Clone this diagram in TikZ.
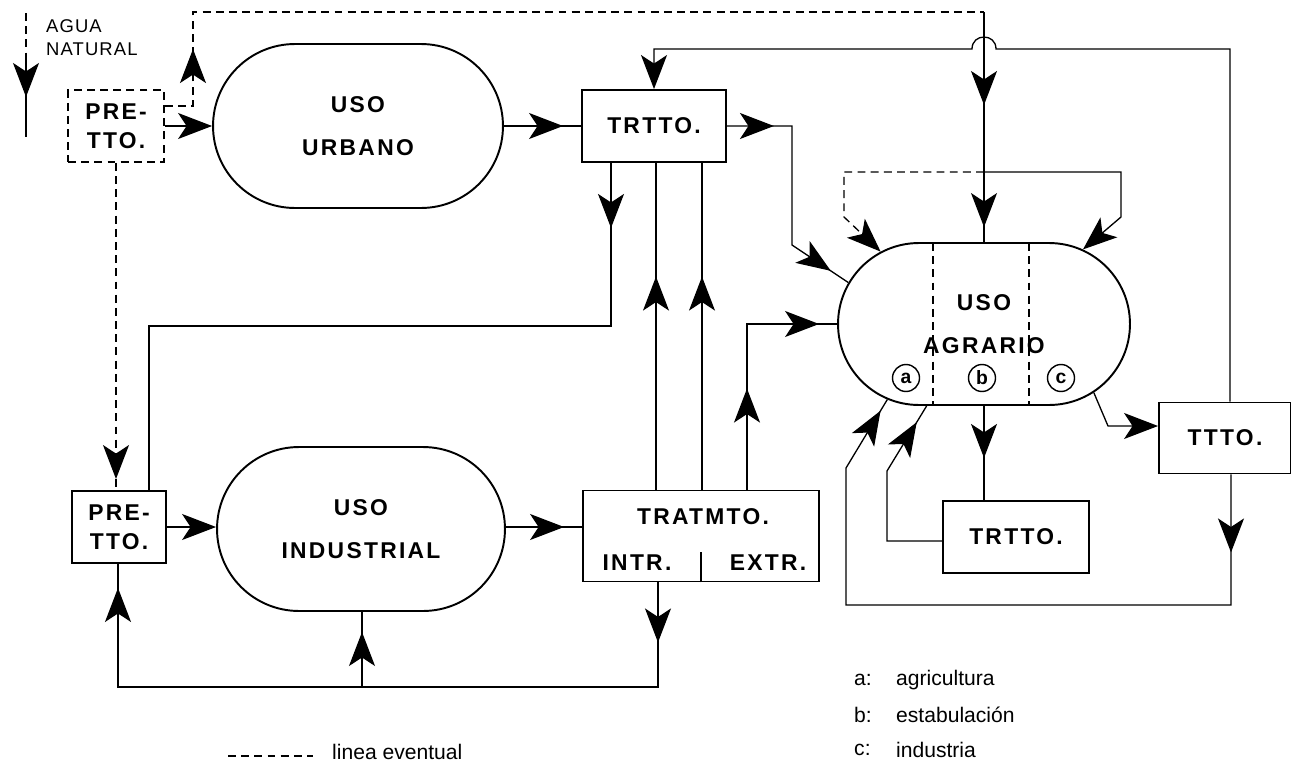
\documentclass[tikz,border=0pt]{standalone}
\usepackage{fontspec}
\setmainfont{Liberation Sans}
\newfontfamily\boxfont{Liberation Sans Bold}[LetterSpace=10]
\newfontfamily\thinfont{Liberation Sans}[LetterSpace=6]
\usepackage{tikz}
\usetikzlibrary{arrows.meta,shapes.misc,decorations.markings}

\tikzset{
	flowtip/.tip={Stealth[length=0.68cm,width=0.52cm,inset=0.17cm]},
	tipat/.style={postaction={decorate,solid,decoration={markings,mark=at position #1 with {\arrow{flowtip}}}}},
}

\begin{document}
\begin{tikzpicture}[x=0.02cm, y=-0.02cm,
		unit/.style={draw, line width=1.1pt, inner sep=0pt, align=center, font=\boxfont\fontsize{13}{15.5}\selectfont},
		usage/.style={unit, rounded rectangle},
		flow/.style={line width=0.75pt},
		maybe/.style={flow, dash pattern=on 4.5pt off 3pt},
		subuse/.style={draw, circle, line width=0.8pt, minimum size=0.54cm, inner sep=0pt, font=\bfseries\fontsize{11}{13}\selectfont},
		note/.style={anchor=west, font=\fontsize{12}{14}\selectfont}]
	\path[fill=white] (0,0) rectangle (1291,764);
	\useasboundingbox (0,0) rectangle (1291,764);
	
	% pretreatments, uses and treatments
	\node[unit, dash pattern=on 4.5pt off 3pt, minimum width=1.92cm, minimum height=1.44cm] (pretop) at (116,126) {PRE-\\[1pt]TTO.};
	\node[usage, minimum width=5.8cm, minimum height=3.28cm] (urbano) at (358,126) {USO\\[9pt]URBANO};
	\node[unit, minimum width=2.88cm, minimum height=1.44cm] (trtop) at (654,126) {TRTTO.};
	\node[usage, minimum width=5.84cm, minimum height=3.24cm] (agrario) at (984,324) {USO\\[9pt]AGRARIO};
	\node[unit, minimum width=1.88cm, minimum height=1.44cm] (prebot) at (119,527) {PRE-\\[1pt]TTO.};
	\node[usage, minimum width=5.76cm, minimum height=3.28cm] (industrial) at (361,529) {USO\\[9pt]INDUSTRIAL};
	\node[unit, minimum width=4.72cm, minimum height=1.82cm] (tratmto) at (701,536) {};
	\node[unit, draw=none] (tratitle) at (703,517) {TRATMTO.};
	\node[unit, draw=none] (intr) at (637,563) {INTR.};
	\node[unit, draw=none] (extr) at (768,563) {EXTR.};
	\draw[line width=1.1pt] (tratmto.south) -- ++(0,-30);
	\node[unit, minimum width=2.92cm, minimum height=1.44cm] (trtbot) at (1016,537) {TRTTO.};
	\node[unit, minimum width=2.64cm, minimum height=1.42cm] (ttto) at (1225,438) {TTTO.};
	
	% sectors of the farming use
	\draw[maybe] (933,243) -- (933,405);
	\draw[maybe] (1029,243) -- (1029,405);
	\node[subuse] (seca) at (906,378) {a};
	\node[subuse] (secb) at (982,378) {b};
	\node[subuse] (secc) at (1061,378) {c};
	
	% natural water
	\node[anchor=west, align=left, font=\thinfont\fontsize{10.5}{13}\selectfont] (agua) at (40,38) {AGUA\\NATURAL};
	\path[shape=coordinate]
	(26,13) coordinate(wtop)
	(26,60) coordinate(wmid)
	(26,137) coordinate(wend);
	\draw[maybe] (wtop) -- (wmid);
	\draw[flow, tipat=0.48] (wmid) -- (wend);
	
	% bends of the connectors
	\path[shape=coordinate]
	(193,106) coordinate(upa)
	(193,12) coordinate(upb)
	(984,12) coordinate(upc)
	(984,172) coordinate(split)
	(1230,49) coordinate(reta)
	(654,49) coordinate(retb)
	(792,126) coordinate(ta)
	(792,245) coordinate(tb)
	(656,0) coordinate(ua)
	(702,0) coordinate(ub)
	(747,0) coordinate(xa)
	(658,687) coordinate(ra)
	(118,687) coordinate(rb)
	(362,687) coordinate(rc)
	(611,326) coordinate(da)
	(149,326) coordinate(db)
	(844,172) coordinate(ea)
	(844,217) coordinate(eb)
	(1121,172) coordinate(fa)
	(1121,217) coordinate(fb)
	(887,541) coordinate(ga)
	(887,471) coordinate(gb)
	(1231,605) coordinate(ha)
	(846,605) coordinate(hb)
	(846,468) coordinate(hc)
	(1108,426) coordinate(ka);
	
	% upper half
	\draw[flow, -{flowtip}] (pretop.east) -- (urbano.west);
	\draw[maybe, tipat=1.7cm] (pretop.east |- upa) -- (upa) -- (upb) -- (upc);
	\draw[flow, tipat=1.86cm, tipat=-0.3cm] (upc) -- (agrario.north);
	\draw[flow, -{flowtip}] (reta |- ttto.north) -- (reta) -- (996,49) .. controls (996,33) and (972,33) .. (972,49) -- (retb) -- (trtop.north);
	\draw[flow, tipat=-0.36cm] (urbano.east) -- (trtop.west);
	\draw[flow, tipat=0.94cm, tipat=-0.42cm] (trtop.east) -- (ta) -- (tb) -- (agrario.163);
	\draw[flow, tipat=1.3cm] (da |- trtop.south) -- (da) -- (db) -- (db |- prebot.north);
	\draw[maybe, tipat=-0.22cm] (pretop.south) -- (pretop.south |- prebot.north);
	
	% lower half
	\draw[flow, tipat=4.26cm] (ua |- tratmto.north) -- (ua |- trtop.south);
	\draw[flow, tipat=4.26cm] (ub |- tratmto.north) -- (ub |- trtop.south);
	\draw[flow, tipat=2.02cm, tipat=-0.36cm] (xa |- tratmto.north) -- (xa |- agrario.west) -- (agrario.west);
	\draw[flow, -{flowtip}] (prebot.east) -- (industrial.west |- prebot.east);
	\draw[flow, tipat=-0.36cm] (industrial.east |- prebot.east) -- (tratmto.west |- prebot.east);
	\draw[flow, tipat=1.2cm, tipat=-0.48cm] (ra |- tratmto.south) -- (ra) -- (rb) -- (rb |- prebot.south);
	\draw[flow, tipat=1.1cm] (rc) -- (rc |- industrial.south);
	
	% around the farming use
	\draw[maybe, -{flowtip}] (split) -- (ea) -- (eb) -- (agrario.145);
	\draw[flow, -{flowtip}] (split) -- (fa) -- (fb) -- (agrario.37);
	\draw[flow, tipat=1.04cm] (agrario.south) -- (agrario.south |- trtbot.north);
	\draw[flow, tipat=-0.38cm] (trtbot.west |- ga) -- (ga) -- (gb) -- (agrario.235);
	\draw[flow, tipat=1.56cm, tipat=-0.26cm] (ha |- ttto.south) -- (ha) -- (hb) -- (hc) -- (agrario.218);
	\draw[flow, -{flowtip}] (agrario.328) -- (ka) -- (ttto.west |- ka);
	
	% legend
	\node[note] (keya) at (848,680) {a:};
	\node[note] (texta) at (890,680) {agricultura};
	\node[note] (keyb) at (848,715) {b:};
	\node[note] (textb) at (890,715) {estabulación};
	\node[note] (keyc) at (848,750) {c:};
	\node[note] (textc) at (890,750) {industria};
	\draw[maybe] (228,756) -- (313,756);
	\node[note] (eventual) at (326,752) {linea eventual};
\end{tikzpicture}
\end{document}
